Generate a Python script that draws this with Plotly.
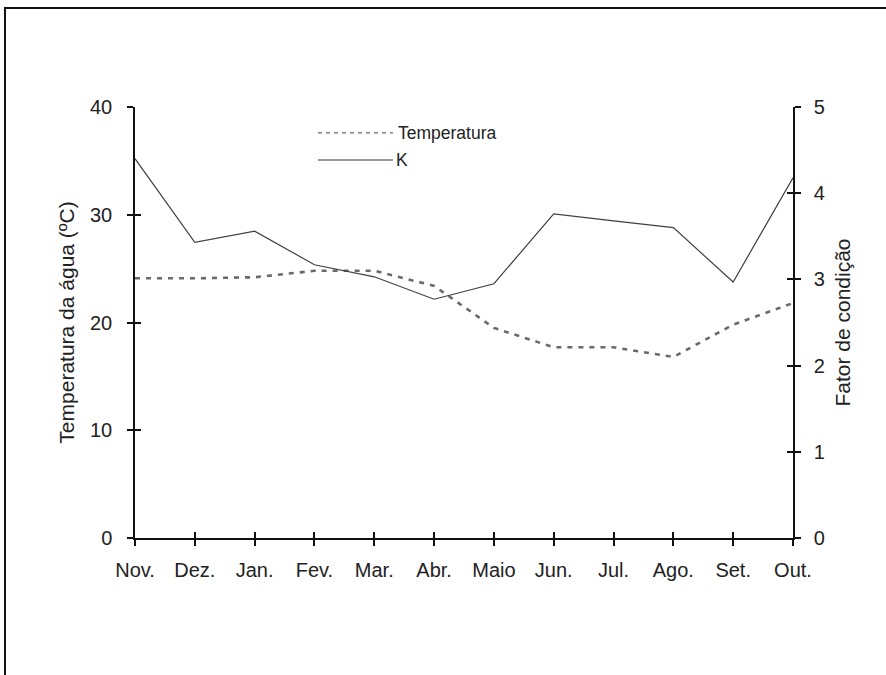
import plotly.graph_objects as go

months = ["Nov.", "Dez.", "Jan.", "Fev.", "Mar.", "Abr.", "Maio", "Jun.", "Jul.", "Ago.", "Set.", "Out."]
temperatura = [24.1, 24.1, 24.2, 24.8, 24.8, 23.4, 19.5, 17.7, 17.7, 16.8, 19.8, 21.8]
fator_k = [4.40, 3.43, 3.56, 3.17, 3.03, 2.77, 2.95, 3.76, 3.68, 3.60, 2.97, 4.18]
left_ticks = [0, 10, 20, 30, 40]
right_ticks = [0, 1, 2, 3, 4, 5]

FONT = "Liberation Sans, Arial, sans-serif"
AX = "#111111"

fig = go.Figure()
fig.add_trace(go.Scatter(x=months, y=temperatura, mode="lines", name="Temperatura",
                         line=dict(color="#6a6a6a", width=2.6, dash="5px,6px"),
                         xaxis="x", yaxis="y", showlegend=False))
fig.add_trace(go.Scatter(x=months, y=fator_k, mode="lines", name="K",
                         line=dict(color="#404040", width=1.2),
                         xaxis="x", yaxis="y2", showlegend=False))
# invisible helpers so the inner-tick overlay axes are drawn
fig.add_trace(go.Scatter(x=months, y=temperatura, mode="lines", line=dict(width=0),
                         xaxis="x2", yaxis="y3", showlegend=False, hoverinfo="skip"))
fig.add_trace(go.Scatter(x=months, y=fator_k, mode="lines", line=dict(width=0),
                         xaxis="x2", yaxis="y4", showlegend=False, hoverinfo="skip"))

common_x = dict(type="category", categoryorder="array", categoryarray=months,
                range=[0, 11], showgrid=False, zeroline=False,
                linecolor=AX, linewidth=1.5, tickcolor=AX, tickwidth=1.5, ticklen=6)

fig.update_layout(
    width=886, height=675,
    paper_bgcolor="white", plot_bgcolor="white",
    margin=dict(l=135, r=93, t=107, b=137),
    font=dict(family=FONT, size=20, color="#222222"),
    xaxis=dict(**common_x, ticks="outside", showline=True, anchor="y",
               tickfont=dict(size=20), ticklabelstandoff=7),
    xaxis2=dict(**common_x, ticks="inside", showline=False, overlaying="x",
                anchor="y3", side="bottom", showticklabels=False),
    yaxis=dict(range=[0, 40], tickvals=left_ticks, showgrid=False, zeroline=False,
               showline=True, linecolor=AX, linewidth=1.5, ticks="outside",
               tickcolor=AX, tickwidth=1.5, ticklen=6, ticklabelstandoff=11,
               title=dict(text="Temperatura da água (ºC)", font=dict(size=21), standoff=10)),
    yaxis2=dict(range=[0, 5], tickvals=right_ticks, overlaying="y", side="right",
                anchor="x", showgrid=False, zeroline=False, showline=True,
                linecolor=AX, linewidth=1.5, ticks="outside", tickcolor=AX,
                tickwidth=1.5, ticklen=6, ticklabelstandoff=9,
                title=dict(text="Fator de condição", font=dict(size=21), standoff=11)),
    yaxis3=dict(range=[0, 40], tickvals=left_ticks, overlaying="y", side="left",
                anchor="x2", showgrid=False, zeroline=False, showline=False,
                ticks="inside", tickcolor=AX, tickwidth=1.5, ticklen=6,
                showticklabels=False),
    yaxis4=dict(range=[0, 5], tickvals=right_ticks, overlaying="y", side="right",
                anchor="x2", showgrid=False, zeroline=False, showline=False,
                ticks="inside", tickcolor=AX, tickwidth=1.5, ticklen=6,
                showticklabels=False),
)

# manual legend (line samples + labels)
fig.add_shape(type="line", xref="paper", yref="paper", x0=0.278, x1=0.392, y0=0.940, y1=0.940,
              line=dict(color="#666666", width=1.3, dash="4px,4px"))
fig.add_shape(type="line", xref="paper", yref="paper", x0=0.278, x1=0.392, y0=0.877, y1=0.877,
              line=dict(color="#333333", width=1.2))
fig.add_annotation(text="Temperatura", xref="paper", yref="paper", x=0.396, y=0.940,
                   xanchor="left", yanchor="middle", showarrow=False,
                   font=dict(size=17.5, family=FONT, color="#222222"))
fig.add_annotation(text="K", xref="paper", yref="paper", x=0.394, y=0.877,
                   xanchor="left", yanchor="middle", showarrow=False,
                   font=dict(size=17.5, family=FONT, color="#222222"))

# outer frame (left and top edges visible, the rest runs off the page)
fig.add_shape(type="rect", xref="paper", yref="paper", x0=-0.1976, x1=1.25, y0=-0.5, y1=1.2297,
              line=dict(color="#111111", width=2), layer="below")

fig.write_html("out.html", config={"displayModeBar": False},
               post_script="document.body.style.margin='0';")
